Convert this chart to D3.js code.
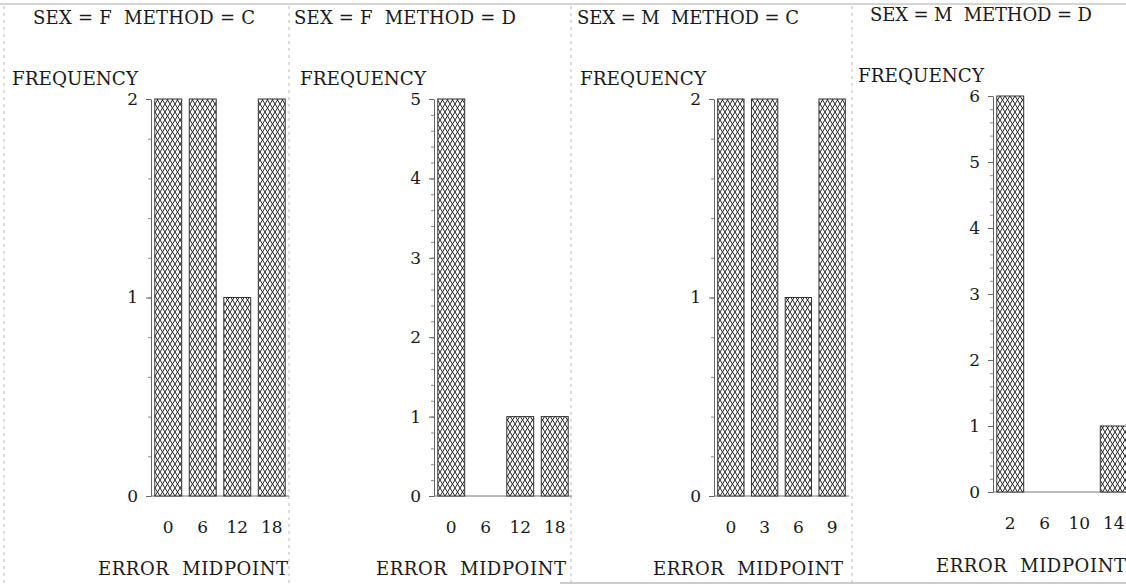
<!DOCTYPE html>
<meta charset="utf-8">
<style>
body { margin: 0; background: #fff; }
text {
  font-family: "DejaVu Serif", serif;
  fill: #1a1a1a;
  white-space: pre;
}
.title { font-size: 18px; }
.lab { font-size: 18px; }
.sep { stroke: #bbb; stroke-width: 1px; stroke-dasharray: 3,4; }
</style>
<svg width="1126" height="586"></svg>
<script src="https://d3js.org/d3.v7.min.js"></script>
<script>

// panels of the chart, left to right
var titles = ["SEX = F  METHOD = C", "SEX = F  METHOD = D", "SEX = M  METHOD = C", "SEX = M  METHOD = D"];
var midpoints = [
  ["0", "6", "12", "18"],
  ["0", "6", "12", "18"],
  ["0", "3", "6", "9"],
  ["2", "6", "10", "14"]
];
var freqs = [
  [2, 2, 1, 2],
  [5, 0, 1, 1],
  [2, 2, 1, 2],
  [6, 0, 0, 1]
];
var yMax = [2, 5, 2, 6];

// layout per panel
var layout = [
  {ax: 151, ar: 289, top: 99, bot: 496, tx: 33, fx: 12, ex: 288, dy: 0},
  {ax: 434, ar: 572, top: 99, bot: 496, tx: 294, fx: 300, ex: 566, dy: 0},
  {ax: 714, ar: 849, top: 99, bot: 496, tx: 577, fx: 580, ex: 843, dy: 0},
  {ax: 993, ar: 1131, top: 96, bot: 492, tx: 870, fx: 858, ex: 1126, dy: -3}
];

var svg = d3.select("svg");

var defs = svg.append("defs");
var pat = defs.append("pattern")
    .attr("id", "hatch")
    .attr("patternUnits", "userSpaceOnUse")
    .attr("width", 5)
    .attr("height", 8);
pat.append("rect").attr("width", 5).attr("height", 8).attr("fill", "#fff");
pat.append("path")
    .attr("d", "M-1,-1.6 L6,9.6 M6,-1.6 L-1,9.6")
    .attr("stroke", "#222")
    .attr("stroke-width", 1);

// frame lines
svg.append("line").attr("x1", 0).attr("x2", 1126).attr("y1", 4).attr("y2", 4)
    .attr("stroke", "#aaa").attr("stroke-width", 1);
svg.append("line").attr("x1", 560).attr("x2", 1126).attr("y1", 583).attr("y2", 583)
    .attr("stroke", "#999").attr("stroke-width", 1);
[4, 289, 571, 852].forEach(function(x) {
  svg.append("line").attr("class", "sep")
      .attr("x1", x).attr("x2", x).attr("y1", 6).attr("y2", 583);
});

titles.forEach(function(t, i) {
  var L = layout[i];
  var g = svg.append("g");

  var x = d3.scaleBand()
      .domain(midpoints[i])
      .range([L.ax, L.ar])
      .paddingInner(0.22)
      .paddingOuter(0.11);

  var y = d3.scaleLinear()
      .domain([0, yMax[i]])
      .range([L.bot, L.top]);

  var data = midpoints[i].map(function(m, j) { return {mid: m, f: freqs[i][j]}; });

  g.append("text").attr("class", "title")
      .attr("x", L.tx).attr("y", 24 + L.dy)
      .attr("textLength", 222).attr("lengthAdjust", "spacing")
      .text(t);

  g.append("text").attr("class", "lab")
      .attr("x", L.fx).attr("y", 85 + L.dy)
      .attr("textLength", 126).attr("lengthAdjust", "spacingAndGlyphs")
      .text("FREQUENCY");

  g.append("text").attr("class", "lab")
      .attr("x", L.ex - 190).attr("y", 575 + L.dy)
      .attr("textLength", 190).attr("lengthAdjust", "spacing")
      .text("ERROR  MIDPOINT");

  // baseline
  g.append("line")
      .attr("x1", L.ax).attr("x2", Math.min(L.ar, 1126))
      .attr("y1", L.bot).attr("y2", L.bot)
      .attr("stroke", "#777").attr("stroke-width", 1);

  g.selectAll(".bar")
    .data(data.filter(function(d) { return d.f > 0; }))
    .enter().append("rect")
      .attr("class", "bar")
      .attr("x", function(d) { return x(d.mid); })
      .attr("width", x.bandwidth())
      .attr("y", function(d) { return y(d.f); })
      .attr("height", function(d) { return y(0) - y(d.f); })
      .attr("fill", "url(#hatch)")
      .attr("stroke", "#333")
      .attr("stroke-width", 1);

  // minor ticks
  var minor = d3.range(0, yMax[i] * 5 + 1).map(function(k) { return k / 5; });
  g.append("g")
      .attr("transform", "translate(" + L.ax + ",0)")
      .call(d3.axisLeft(y).tickValues(minor).tickSize(3).tickFormat(""))
      .call(function(a) { a.select(".domain").remove(); })
      .selectAll("line").attr("stroke", "#888");

  var ya = g.append("g")
      .attr("transform", "translate(" + L.ax + ",0)")
      .call(d3.axisLeft(y).ticks(yMax[i]).tickFormat(d3.format("d")).tickSize(5).tickSizeOuter(0).tickPadding(8));
  ya.select(".domain").attr("stroke", "#666");
  ya.selectAll(".tick line").attr("stroke", "#666");
  ya.selectAll(".tick text").attr("fill", "#1a1a1a").style("font-family", "DejaVu Serif").style("font-size", "17px");

  var xa = g.append("g")
      .attr("transform", "translate(0," + (L.bot + 17) + ")")
      .call(d3.axisBottom(x).tickSize(0).tickPadding(8));
  xa.select(".domain").remove();
  xa.selectAll(".tick text").attr("fill", "#1a1a1a").style("font-family", "DejaVu Serif").style("font-size", "17px");
});

</script>
